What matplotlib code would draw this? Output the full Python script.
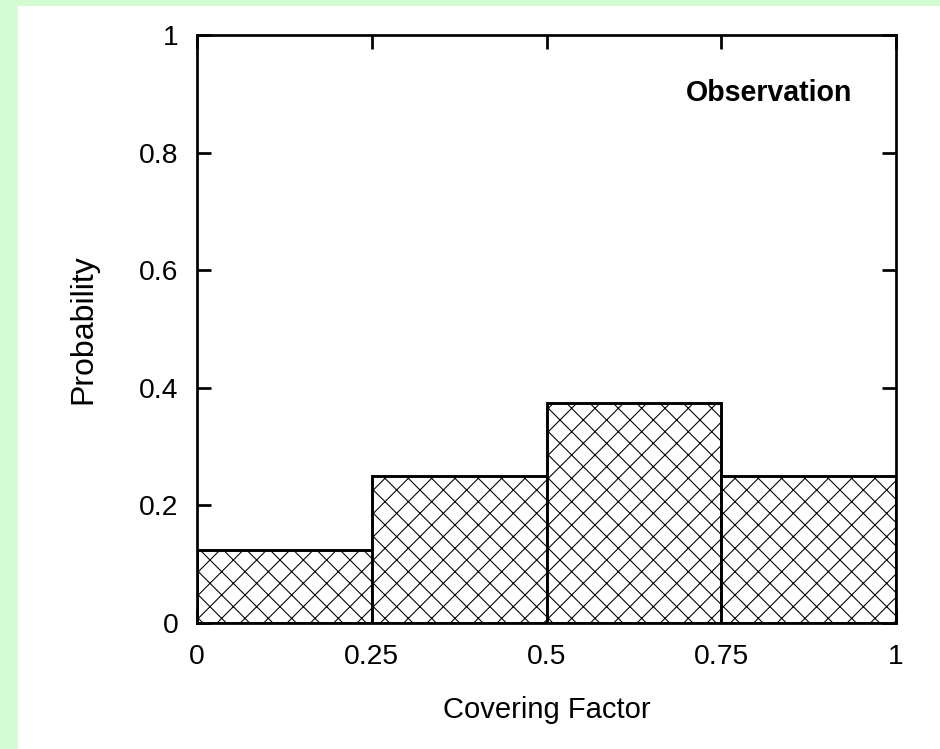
import matplotlib
matplotlib.use("Agg")
import matplotlib.pyplot as plt
from matplotlib.patches import Rectangle

bin_left = [0.0, 0.25, 0.5, 0.75]
bin_width = 0.25
probability = [0.125, 0.25, 0.375, 0.25]
x_ticks = [0, 0.25, 0.5, 0.75, 1]
x_tick_labels = ["0", "0.25", "0.5", "0.75", "1"]
y_ticks = [0, 0.2, 0.4, 0.6, 0.8, 1]
y_tick_labels = ["0", "0.2", "0.4", "0.6", "0.8", "1"]

DPI = 140
W, H = 940, 749
plt.rcParams['font.family'] = ['Liberation Sans', 'DejaVu Sans']
plt.rcParams['hatch.linewidth'] = 0.55

fig = plt.figure(figsize=(W / DPI, H / DPI), dpi=DPI, facecolor='#d3fcd3')
fig.patches.append(Rectangle((18 / W, 0), 1 - 18 / W, (H - 6) / H,
                             transform=fig.transFigure, facecolor='white',
                             edgecolor='none', zorder=-10))

ax = fig.add_axes([197 / W, 1 - 623 / H, (896 - 197) / W, (623 - 35) / H])
ax.set_zorder(5)
ax.set_facecolor('white')

ax.bar(bin_left, probability, width=bin_width, align='edge',
       facecolor='white', edgecolor='black', linewidth=1.5, hatch='xx', zorder=2)

ax.set_xlim(0, 1)
ax.set_ylim(0, 1)
ax.set_xticks(x_ticks)
ax.set_xticklabels(x_tick_labels)
ax.set_yticks(y_ticks)
ax.set_yticklabels(y_tick_labels)

for s in ax.spines.values():
    s.set_linewidth(1.4)
    s.set_zorder(5)

ax.tick_params(axis='both', direction='in', length=7.2, width=1.4,
               top=True, right=True, labelsize=14.5, colors='black')
ax.tick_params(axis='y', pad=9.5)
ax.tick_params(axis='x', pad=11)

ax.set_xlabel('Covering Factor', fontsize=15, labelpad=13)
ax.set_ylabel('Probability', fontsize=16.5, labelpad=21)

ax.text(0.938, 0.901, 'Observation', transform=ax.transAxes, ha='right',
        va='center', fontsize=14.7, fontweight='bold')

fig.savefig('out.png', dpi=DPI, facecolor=fig.get_facecolor())
